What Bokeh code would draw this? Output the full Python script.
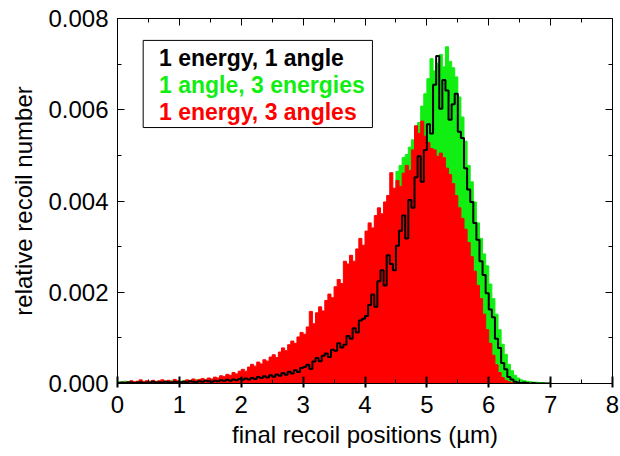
import numpy as np
from bokeh.plotting import figure
from bokeh.models import (LinearAxis, SingleIntervalTicker, NumeralTickFormatter,
                          CustomJSTickFormatter, Range1d, Label, BoxAnnotation)
from bokeh.embed import file_html
from bokeh.resources import INLINE

# ---------------- data ----------------
BIN_WIDTH = 0.05  # µm, bins start at 0

# 1 energy, 3 angles (red)
one_energy_three_angles = [
    0.00002, 0.00001, 0.00003, 0.00002, 0.00006, 0.00004, 0.00005, 0.00008, 0.00004, 0.00006,
    0.00005, 0.00007, 0.00004, 0.00006, 0.00008, 0.00005, 0.00007, 0.00004, 0.00009, 0.00006,
    0.00004, 0.00005, 0.00008, 0.00006, 0.00010, 0.00007, 0.00009, 0.00011, 0.00008, 0.00012,
    0.00010, 0.00014, 0.00012, 0.00017, 0.00015, 0.00020, 0.00018, 0.00024, 0.00021, 0.00027,
    0.00031, 0.00027, 0.00036, 0.00042, 0.00038, 0.00047, 0.00043, 0.00052, 0.00049, 0.00058,
    0.00063, 0.00057, 0.00069, 0.00078, 0.00072, 0.00085, 0.00093, 0.00088, 0.00102, 0.00112,
    0.00108, 0.00124, 0.00158, 0.00131, 0.00155, 0.00168, 0.00159, 0.00182, 0.00196, 0.00188,
    0.00212, 0.00228, 0.00219, 0.00268, 0.00262, 0.00281, 0.00268, 0.00295, 0.00318, 0.00303,
    0.00334, 0.00352, 0.00341, 0.00368, 0.00385, 0.00372, 0.00398, 0.00412, 0.00462, 0.00428,
    0.00445, 0.00432, 0.00461, 0.00478, 0.00467, 0.00512, 0.00565, 0.00548, 0.00575, 0.00542,
    0.00528, 0.00515, 0.00512, 0.00498, 0.00505, 0.00495, 0.00472, 0.00458, 0.00438, 0.00412,
    0.00385, 0.00362, 0.00338, 0.00309, 0.00278, 0.00246, 0.00215, 0.00186, 0.00152, 0.00118,
    0.00088, 0.00062, 0.00041, 0.00024, 0.00013, 0.00007, 0.00004, 0.00002, 0.00001, 0.00001,
    0.0, 0.0, 0.0, 0.0, 0.0, 0.0, 0.0, 0.0, 0.0, 0.0,
]

# 1 angle, 3 energies (green)
one_angle_three_energies = [
    0.00004, 0.00003, 0.00005, 0.00003, 0.00004, 0.00002, 0.00004, 0.00003, 0.00005, 0.00003,
    0.00004, 0.00003, 0.00005, 0.00004, 0.00003, 0.00005, 0.00004, 0.00006, 0.00004, 0.00005,
    0.00005, 0.00006, 0.00004, 0.00007, 0.00005, 0.00008, 0.00006, 0.00008, 0.00007, 0.00009,
    0.00008, 0.00010, 0.00009, 0.00011, 0.00010, 0.00013, 0.00012, 0.00014, 0.00013, 0.00016,
    0.00015, 0.00018, 0.00017, 0.00020, 0.00019, 0.00023, 0.00022, 0.00026, 0.00025, 0.00029,
    0.00028, 0.00033, 0.00031, 0.00037, 0.00036, 0.00042, 0.00040, 0.00047, 0.00045, 0.00052,
    0.00055, 0.00061, 0.00058, 0.00067, 0.00073, 0.00070, 0.00080, 0.00087, 0.00084, 0.00095,
    0.00102, 0.00111, 0.00108, 0.00121, 0.00132, 0.00128, 0.00145, 0.00157, 0.00152, 0.00171,
    0.00196, 0.00214, 0.00228, 0.00251, 0.00272, 0.00295, 0.00318, 0.00342, 0.00378, 0.00412,
    0.00465, 0.00478, 0.00495, 0.00502, 0.00518, 0.00534, 0.00556, 0.00572, 0.00608, 0.00635,
    0.00668, 0.00712, 0.00685, 0.00702, 0.00721, 0.00694, 0.00738, 0.00706, 0.00692, 0.00672,
    0.00628, 0.00584, 0.00531, 0.00478, 0.00442, 0.00398, 0.00352, 0.00318, 0.00284, 0.00258,
    0.00218, 0.00186, 0.00152, 0.00118, 0.00086, 0.00064, 0.00042, 0.00028, 0.00018, 0.00012,
    0.00008, 0.00006, 0.00005, 0.00004, 0.00003, 0.00003, 0.00002, 0.00002, 0.00001, 0.00001,
]

# 1 energy, 1 angle (black)
one_energy_one_angle = [
    0.00001, 0.00002, 0.00001, 0.00003, 0.00002, 0.00001, 0.00002, 0.00003, 0.00001, 0.00002,
    0.00002, 0.00004, 0.00002, 0.00003, 0.00002, 0.00004, 0.00003, 0.00002, 0.00004, 0.00003,
    0.00003, 0.00004, 0.00003, 0.00005, 0.00004, 0.00003, 0.00005, 0.00004, 0.00006, 0.00005,
    0.00004, 0.00006, 0.00005, 0.00007, 0.00006, 0.00008, 0.00006, 0.00009, 0.00007, 0.00010,
    0.00008, 0.00011, 0.00009, 0.00012, 0.00010, 0.00014, 0.00012, 0.00016, 0.00013, 0.00018,
    0.00015, 0.00020, 0.00017, 0.00023, 0.00019, 0.00026, 0.00022, 0.00029, 0.00025, 0.00034,
    0.00036, 0.00041, 0.00032, 0.00048, 0.00056, 0.00049, 0.00061, 0.00066, 0.00058, 0.00074,
    0.00072, 0.00088, 0.00079, 0.00085, 0.00104, 0.00098, 0.00121, 0.00112, 0.00138, 0.00142,
    0.00148, 0.00172, 0.00195, 0.00168, 0.00224, 0.00248, 0.00215, 0.00281, 0.00262, 0.00248,
    0.00302, 0.00335, 0.00368, 0.00318, 0.00402, 0.00385, 0.00452, 0.00498, 0.00442, 0.00512,
    0.00568, 0.00548, 0.00655, 0.00718, 0.00602, 0.00665, 0.00642, 0.00578, 0.00612, 0.00635,
    0.00552, 0.00538, 0.00472, 0.00425, 0.00398, 0.00352, 0.00315, 0.00268, 0.00238, 0.00198,
    0.00162, 0.00145, 0.00098, 0.00078, 0.00045, 0.00031, 0.00014, 0.00009, 0.00004, 0.00002,
    0.00001, 0.00002, 0.00001, 0.0, 0.00001, 0.0, 0.0, 0.0, 0.0, 0.0,
]

legend_labels = ["1 energy, 1 angle", "1 angle, 3 energies", "1 energy, 3 angles"]
x_title = "final recoil positions (µm)"
y_title = "relative recoil number"

# ---------------- styling ----------------
FONT = "Liberation Sans"
GREEN = "#11ee11"
RED = "#ff0000"
BLACK = "#000000"

n = len(one_energy_one_angle)
edges = [round(i * BIN_WIDTH, 4) for i in range(n + 1)]


def closed(v):
    return list(v) + [0.0]


p = figure(width=620, height=456, x_range=Range1d(0, 8), y_range=Range1d(0, 0.008),
           output_backend="svg", toolbar_location=None,
           min_border_left=117, min_border_right=8, min_border_top=18, min_border_bottom=73)
p.xgrid.visible = False
p.ygrid.visible = False
p.outline_line_color = "black"
p.outline_line_width = 1
p.background_fill_color = "white"
p.border_fill_color = "white"

p.varea_step(x=edges, y1=0, y2=closed(one_angle_three_energies), step_mode="after",
             fill_color=GREEN)
p.step(x=edges, y=closed(one_angle_three_energies), mode="after", line_color=GREEN, line_width=1)
p.varea_step(x=edges, y1=0, y2=closed(one_energy_three_angles), step_mode="after",
             fill_color=RED)
p.step(x=edges, y=closed(one_energy_three_angles), mode="after", line_color=RED, line_width=1)
p.step(x=edges, y=closed(one_energy_one_angle), mode="after", line_color=BLACK, line_width=2)

# axes
xa = p.xaxis[0]
xa.ticker = SingleIntervalTicker(interval=1, num_minor_ticks=2)
xa.axis_label = x_title
ya = p.yaxis[0]
ya.ticker = SingleIntervalTicker(interval=0.002, num_minor_ticks=2)
ya.formatter = NumeralTickFormatter(format="0.000")
ya.axis_label = y_title

blank = CustomJSTickFormatter(code="return '';")
top_ax = LinearAxis(ticker=SingleIntervalTicker(interval=1, num_minor_ticks=2),
                    formatter=blank, major_label_standoff=0)
right_ax = LinearAxis(ticker=SingleIntervalTicker(interval=0.002, num_minor_ticks=2),
                      formatter=blank, major_label_standoff=0)
p.add_layout(top_ax, "above")
p.add_layout(right_ax, "right")

for ax in [xa, ya, top_ax, right_ax]:
    ax.axis_line_color = "black"
    ax.axis_line_width = 1
    ax.major_tick_line_color = "black"
    ax.minor_tick_line_color = "black"
    ax.major_tick_in = 7
    ax.major_tick_out = 0
    ax.minor_tick_in = 4
    ax.minor_tick_out = 0
    ax.major_label_text_font = FONT
    ax.major_label_text_color = "black"
    ax.axis_label_text_font = FONT
    ax.axis_label_text_font_style = "normal"
    ax.axis_label_text_color = "black"

xa.major_tick_out = 4
xa.major_tick_line_width = 2
for ax in [xa, ya]:
    ax.major_label_text_font_size = "24px"
    ax.axis_label_text_font_size = "24px"
xa.major_label_standoff = 8
xa.axis_label_standoff = 5
ya.major_label_standoff = 9
ya.axis_label_standoff = 8

# legend (box + coloured texts)
LEG_LEFT, LEG_RIGHT, LEG_TOP, LEG_BOTTOM = 0.415, 4.12, 0.00752, 0.00561
p.add_layout(BoxAnnotation(left=LEG_LEFT, right=LEG_RIGHT, top=LEG_TOP, bottom=LEG_BOTTOM,
                           fill_color="white", fill_alpha=1.0, line_color="black",
                           line_width=1, line_alpha=1.0))
legend_colors = [BLACK, GREEN, RED]
legend_y = [0.00714, 0.00655, 0.00594]
for lab, col, yy in zip(legend_labels, legend_colors, legend_y):
    p.add_layout(Label(x=0.67, y=yy, text=lab, text_color=col, text_font=FONT,
                       text_font_size="23px", text_font_style="bold",
                       text_baseline="middle", text_align="left"))

open("out.html", "w").write(file_html(p, INLINE))
